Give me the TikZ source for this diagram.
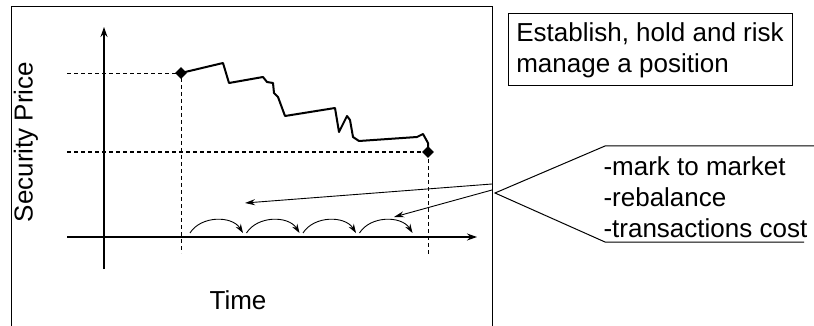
\documentclass[tikz,border=0pt]{standalone}
\usepackage{fontspec}
\setmainfont{Liberation Sans}
\usetikzlibrary{arrows.meta,shapes.geometric}

\begin{document}
\begin{tikzpicture}[x=1pt,y=-1pt,
  every node/.style={font=\fontsize{26}{31}\selectfont},
  axis/.style={line width=1.2pt,-{Stealth[length=10pt,width=7pt]}},
  guide/.style={dash pattern=on 4pt off 3pt,line width=0.9pt},
  pricemark/.style={diamond,fill=black,minimum size=12pt,inner sep=0pt},
  hop/.style={line width=0.9pt,-{Stealth[length=9pt,width=6pt]},bend left=58},
  pointer/.style={line width=0.9pt,-{Stealth[length=10pt,width=6pt]}}]
  \useasboundingbox (0,0) rectangle (814,326);
  % frame round the chart
  \draw[line width=1pt] (11,330) -- (11,7) -- (492,7) -- (492,330);

  % axes
  \coordinate (yfoot) at (104,269);
  \coordinate (ytop) at (104,27);
  \coordinate (xfoot) at (67,237);
  \coordinate (xend) at (477,237);
  \draw[axis] (yfoot) -- (ytop);
  \draw[axis] (xfoot) -- (xend);
  \node[rotate=90] (price) at (26,142) {Security Price};
  \node (time) at (238,300) {Time};

  % open and close of the position
  \node[pricemark] (entry) at (181,73) {};
  \node[pricemark] (exit) at (428,152) {};
  \coordinate (hileft) at (67,73);
  \coordinate (loleft) at (67,152);
  \coordinate (entryfoot) at (181,253);
  \coordinate (exitfoot) at (428,256);
  \draw[guide] (hileft) -- (entry.center) -- (entryfoot);
  \draw[guide,line width=1.6pt] (loleft) -- (exit.center);
  \draw[guide] (exit.center) -- (exitfoot);

  % price path
  \draw[line width=2pt,line join=round] (entry.center) -- (223,63) -- (229,83)
    -- (263,77) -- (267,82) -- (273,83) -- (274,93) -- (278,97) -- (285,116)
    -- (335,108) -- (339,132) -- (347,116) -- (350,120) -- (353,137)
    -- (359,141) -- (417,137) -- (423,134) -- (428,143) -- (exit.center);

  % rebalancing steps
  \foreach \i in {0,...,3} {
    \coordinate (hop\i) at ({190+56.5*\i},233);
    \coordinate (land\i) at ({243+56.5*\i},233);
    \draw[hop] (hop\i) to (land\i);
  }

  % task box
  \node[draw,line width=1pt,align=left,minimum width=284pt,minimum height=72pt]
    (task) at (650,50) {Establish, hold and risk\\manage a position};

  % callout
  \node[align=left,anchor=west] (costs) at (600,197)
    {-mark to market\\-rebalance\\-transactions cost};
  \coordinate (tip) at (495,193);
  \coordinate (calltop) at (605,146);
  \coordinate (calltopend) at (814,146);
  \coordinate (callbot) at (605,242);
  \coordinate (callbotend) at (804,242);
  \draw[line width=1pt] (calltopend) -- (calltop) -- (tip) -- (callbot) -- (callbotend);
  \coordinate (from1) at (492,184);
  \coordinate (from2) at (492,190);
  \coordinate (to1) at (245,203);
  \coordinate (to2) at (394,217);
  \draw[pointer] (from1) -- (to1);
  \draw[pointer] (from2) -- (to2);
\end{tikzpicture}
\end{document}
